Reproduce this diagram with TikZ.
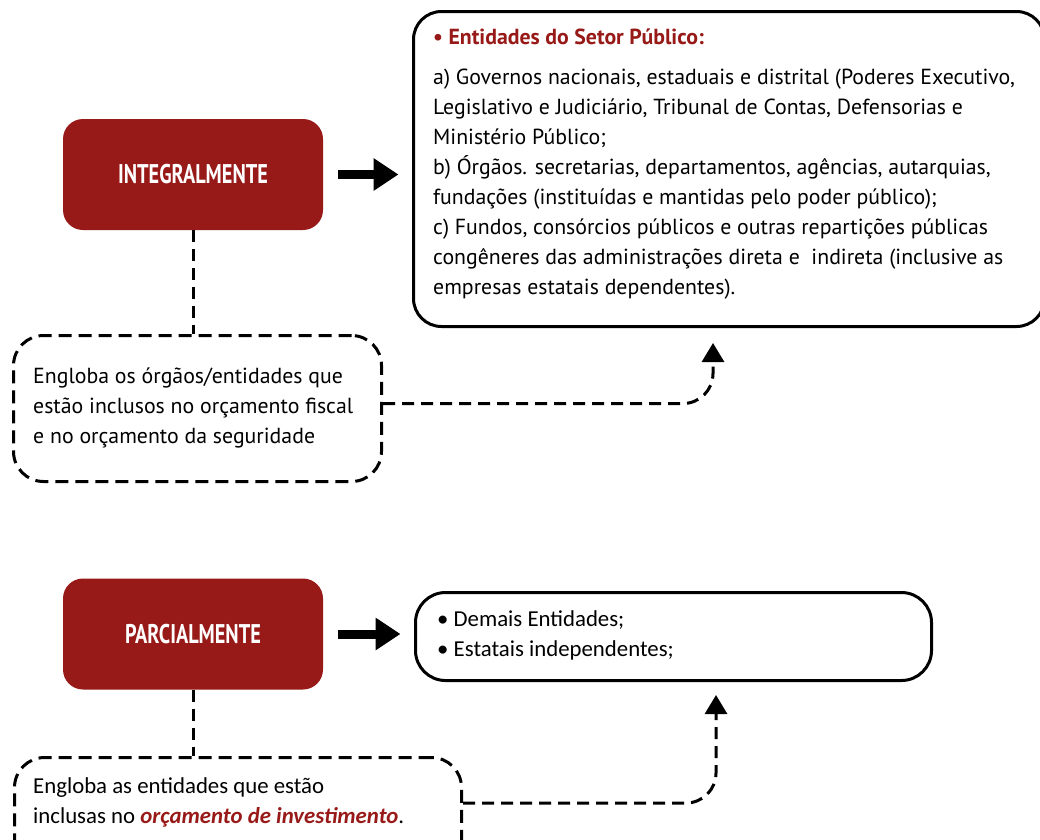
\documentclass[tikz,border=0pt]{standalone}
\usepackage{fontspec}
\usepackage{graphicx}
\setmainfont{PT Sans}
\newfontfamily\calfont{Carlito}
\usetikzlibrary{arrows.meta}
\definecolor{dred}{RGB}{152,26,24}
\begin{document}
\begin{tikzpicture}[x=1pt,y=-1pt,
  redbox/.style={fill=dred, rounded corners=20pt, inner sep=0pt, minimum width=260pt, minimum height=111pt, text=white, font=\bfseries\fontsize{27}{27}\selectfont},
  solidbox/.style={draw=black, line width=3pt, rounded corners=28pt, inner sep=0pt},
  dashbox/.style={draw=black, line width=3pt, dash pattern=on 13pt off 7pt, rounded corners=30pt, inner sep=0pt},
  txt/.style={inner sep=0pt, align=left, font=\fontsize{21.8}{30}\selectfont},
  caltxt/.style={inner sep=0pt, align=left, font=\calfont\fontsize{22.8}{30.5}\selectfont},
  bigarrow/.style={line width=9pt, -{Triangle[length=25pt,width=31pt]}, shorten <=15pt, shorten >=13.5pt},
  dashconn/.style={line width=3pt, dash pattern=on 12pt off 7pt},
  dasharrow/.style={dashconn, rounded corners=30pt, -{Triangle[length=19pt,width=22pt]}},
]
\useasboundingbox (0,0) rectangle (1040,839);

% top group
\node[redbox] (int) at (193,174.5) {\scalebox{0.75}[1]{INTEGRALMENTE}};
\node[solidbox, minimum width=631pt, minimum height=315pt, anchor=north west] (top) at (412,10) {};
\node[txt, anchor=north west] (topt) at (433,29) {{\color{dred}\bfseries • Entidades do Setor Público:}\\[10pt]
a) Governos nacionais, estaduais e distrital (Poderes Executivo,\\
Legislativo e Judiciário, Tribunal de Contas, Defensorias e\\
Ministério Público;\\
b) Órgãos. secretarias, departamentos, agências, autarquias,\\
fundações (instituídas e mantidas pelo poder público);\\
c) Fundos, consórcios públicos e outras repartições públicas\\
congêneres das administrações direta e~ indireta (inclusive as\\
empresas estatais dependentes).};
\draw[bigarrow] (int.east) -- (int.east -| top.west);

\node[dashbox, minimum width=368pt, minimum height=146pt, anchor=north west] (d1) at (12,334) {};
\node[txt, anchor=north west] (d1t) at (33,368) {Engloba os órgãos/entidades que\\estão inclusos no orçamento fiscal\\e no orçamento da seguridade};
\draw[dashconn] (int.south) -- (int.south |- d1.north);
\coordinate (tip1) at (713,343);
\draw[dasharrow] ([yshift=5pt]d1.east) -| (tip1);

% bottom group
\node[redbox] (par) at (193,634) {\scalebox{0.75}[1]{PARCIALMENTE}};
\node[solidbox, rounded corners=30pt, minimum width=516pt, minimum height=88pt, anchor=north west] (dem) at (414,591) {};
\node[caltxt, anchor=north west] (demt) at (437,610) {• Demais Entidades;\\• Estatais independentes;};
\draw[bigarrow] (par.east) -- (par.east -| dem.west);

\node[dashbox, minimum width=447pt, minimum height=120pt, anchor=north west] (d2) at (13,756) {};
\node[caltxt, anchor=north west] (d2t) at (33,777) {Engloba as entidades que estão\\inclusas no {\color{dred}\bfseries\itshape orçamento de investimento}.};
\draw[dashconn] (par.south) -- (par.south |- d2.north);
\coordinate (c2) at (0,803);
\coordinate (tip2) at (716,695);
\draw[dasharrow] (d2.east |- c2) -| (tip2);
\end{tikzpicture}
\end{document}
